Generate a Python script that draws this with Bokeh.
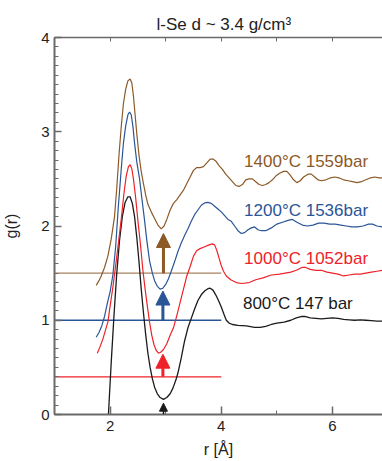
from bokeh.plotting import figure
from bokeh.models import (Range1d, LinearAxis, SingleIntervalTicker, Arrow,
                          NormalHead, Label)
from bokeh.embed import file_html
from bokeh.resources import INLINE

# ---------------- data ----------------
r_800 = [1.97, 2.02, 2.07, 2.12, 2.17, 2.22, 2.27, 2.32, 2.36, 2.40, 2.44, 2.48, 2.52,
         2.56, 2.60, 2.64, 2.68, 2.72, 2.76, 2.80, 2.85, 2.90, 2.96, 3.02, 3.08, 3.13,
         3.18, 3.22, 3.28, 3.34, 3.40, 3.46, 3.52, 3.58, 3.64, 3.70, 3.76, 3.80, 3.85,
         3.90, 3.95, 4.00, 4.05, 4.09, 4.14, 4.20, 4.30, 4.45, 4.60, 4.70, 4.80, 4.90,
         5.00, 5.13, 5.25, 5.35, 5.45, 5.50, 5.60, 5.70, 5.80, 5.90, 6.00, 6.10, 6.20,
         6.30, 6.40, 6.50, 6.60, 6.70, 6.80, 6.90]
g_800 = [0.00, 0.55, 1.05, 1.50, 1.85, 2.10, 2.25, 2.31, 2.31, 2.24, 2.10, 1.88, 1.62,
         1.33, 1.08, 0.85, 0.65, 0.50, 0.38, 0.29, 0.22, 0.18, 0.16, 0.18, 0.22, 0.28,
         0.36, 0.44, 0.60, 0.78, 0.92, 1.02, 1.12, 1.21, 1.27, 1.31, 1.335, 1.34, 1.32,
         1.27, 1.21, 1.14, 1.06, 1.00, 0.97, 0.955, 0.945, 0.94, 0.925, 0.925, 0.935, 0.955,
         0.97, 0.98, 1.00, 1.025, 1.04, 1.04, 1.025, 1.02, 1.015, 1.02, 1.025, 1.02, 1.01,
         1.005, 1.00, 1.005, 1.00, 0.995, 0.99, 0.99]

r_1000 = [1.77, 1.82, 1.87, 1.92, 1.96, 2.00, 2.05, 2.10, 2.15, 2.20, 2.25, 2.29, 2.33,
          2.36, 2.39, 2.42, 2.46, 2.50, 2.55, 2.59, 2.63, 2.67, 2.71, 2.75, 2.79, 2.83,
          2.87, 2.91, 2.96, 3.02, 3.08, 3.14, 3.20, 3.26, 3.32, 3.38, 3.44, 3.50, 3.56,
          3.62, 3.70, 3.78, 3.84, 3.88, 3.92, 3.96, 4.00, 4.04, 4.09, 4.17, 4.27, 4.37,
          4.50, 4.62, 4.75, 4.90, 5.05, 5.15, 5.25, 5.35, 5.45, 5.52, 5.60, 5.70, 5.80,
          5.90, 6.00, 6.10, 6.20, 6.30, 6.40, 6.50, 6.60, 6.70, 6.80, 6.90]
g_1000 = [0.65, 0.72, 0.80, 0.90, 0.98, 1.15, 1.35, 1.58, 1.82, 2.07, 2.35, 2.53, 2.63,
          2.65, 2.61, 2.50, 2.30, 2.06, 1.78, 1.53, 1.33, 1.15, 0.98, 0.84, 0.74, 0.68,
          0.65, 0.66, 0.69, 0.75, 0.84, 0.92, 1.05, 1.19, 1.33, 1.47, 1.57, 1.68, 1.74,
          1.76, 1.78, 1.80, 1.81, 1.80, 1.74, 1.66, 1.58, 1.52, 1.47, 1.43, 1.40, 1.39,
          1.40, 1.43, 1.45, 1.48, 1.49, 1.50, 1.51, 1.53, 1.56, 1.56, 1.54, 1.53, 1.53,
          1.51, 1.50, 1.49, 1.47, 1.48, 1.49, 1.49, 1.50, 1.51, 1.52, 1.53]

r_1200 = [1.75, 1.80, 1.85, 1.90, 1.95, 2.00, 2.05, 2.10, 2.15, 2.20, 2.24, 2.28, 2.32,
          2.35, 2.38, 2.41, 2.44, 2.48, 2.53, 2.57, 2.62, 2.66, 2.71, 2.76, 2.80, 2.85,
          2.90, 2.95, 3.00, 3.05, 3.10, 3.16, 3.22, 3.28, 3.34, 3.40, 3.46, 3.52, 3.58,
          3.64, 3.70, 3.76, 3.82, 3.88, 3.94, 4.00, 4.06, 4.12, 4.18, 4.24, 4.30, 4.36,
          4.42, 4.48, 4.54, 4.60, 4.66, 4.72, 4.80, 4.90, 5.00, 5.10, 5.20, 5.28, 5.36,
          5.46, 5.55, 5.65, 5.75, 5.85, 5.95, 6.05, 6.15, 6.25, 6.35, 6.45, 6.55, 6.65,
          6.72, 6.80, 6.90]
g_1200 = [0.82, 0.87, 0.94, 1.04, 1.18, 1.30, 1.48, 1.78, 2.22, 2.60, 2.88, 3.06, 3.18,
          3.21, 3.18, 3.06, 2.88, 2.68, 2.50, 2.30, 2.06, 1.85, 1.63, 1.50, 1.42, 1.36,
          1.33, 1.34, 1.38, 1.44, 1.52, 1.62, 1.73, 1.82, 1.90, 1.97, 2.05, 2.12, 2.17,
          2.22, 2.245, 2.25, 2.24, 2.21, 2.18, 2.15, 2.11, 2.07, 2.05, 2.00, 1.95, 1.92,
          1.93, 1.96, 1.98, 1.99, 1.96, 1.95, 1.95, 1.98, 2.02, 2.04, 2.06, 2.07, 2.04,
          2.01, 2.00, 2.01, 2.03, 2.03, 2.02, 2.02, 2.01, 2.00, 1.99, 1.99, 2.00, 2.02,
          2.02, 2.00, 1.99]

r_1400 = [1.75, 1.80, 1.84, 1.90, 1.96, 2.02, 2.08, 2.12, 2.16, 2.20, 2.24, 2.28, 2.32,
          2.36, 2.39, 2.42, 2.45, 2.48, 2.52, 2.56, 2.60, 2.64, 2.68, 2.74, 2.80, 2.86,
          2.92, 2.97, 3.02, 3.08, 3.14, 3.20, 3.26, 3.32, 3.38, 3.44, 3.50, 3.56, 3.62,
          3.68, 3.74, 3.80, 3.85, 3.90, 3.96, 4.02, 4.08, 4.14, 4.20, 4.26, 4.32, 4.38,
          4.44, 4.50, 4.56, 4.62, 4.68, 4.74, 4.80, 4.86, 4.92, 4.98, 5.05, 5.12, 5.18,
          5.24, 5.30, 5.36, 5.42, 5.48, 5.56, 5.62, 5.68, 5.74, 5.80, 5.88, 5.96, 6.04,
          6.12, 6.20, 6.28, 6.36, 6.44, 6.52, 6.60, 6.68, 6.76, 6.84, 6.90]
g_1400 = [1.37, 1.42, 1.47, 1.56, 1.68, 1.86, 2.10, 2.40, 2.75, 3.05, 3.30, 3.45, 3.54,
          3.56, 3.52, 3.38, 3.18, 2.98, 2.75, 2.58, 2.45, 2.33, 2.23, 2.15, 2.08, 2.01,
          1.97, 2.00, 2.07, 2.17, 2.24, 2.28, 2.33, 2.38, 2.45, 2.52, 2.59, 2.62, 2.62,
          2.63, 2.67, 2.71, 2.71, 2.69, 2.64, 2.60, 2.55, 2.51, 2.47, 2.43, 2.42, 2.44,
          2.49, 2.50, 2.50, 2.47, 2.44, 2.43, 2.44, 2.46, 2.49, 2.53, 2.56, 2.58, 2.58,
          2.54, 2.49, 2.46, 2.48, 2.52, 2.55, 2.55, 2.52, 2.49, 2.48, 2.49, 2.51, 2.52,
          2.51, 2.49, 2.48, 2.47, 2.46, 2.47, 2.49, 2.51, 2.52, 2.51, 2.51]

series_labels = ["800\u00b0C 147 bar", "1000\u00b0C 1052bar",
                 "1200\u00b0C 1536bar", "1400\u00b0C 1559bar"]

# reference (zero-level) lines for the shifted curves
base_level = [0.4, 1.0, 1.5]
base_r0 = [1.0, 1.0, 1.0]
base_r1 = [4.0, 4.0, 4.0]

# arrows marking the first minimum
arrow_r = [2.96, 2.95, 2.95, 2.96]
arrow_g0 = [0.0, 0.4, 1.0, 1.5]
arrow_g1 = [0.12, 0.64, 1.31, 1.92]

x_ticks_interval = 2
y_ticks_interval = 1

# ---------------- styling ----------------
FONT = "Liberation Sans"
BLACK = "#1a1a1a"
RED = "#ee2228"
BLUE = "#2a5597"
BROWN = "#8c5a28"
BROWN_LINE = "#a88260"
AXIS = "#6a6a6a"
TXT = "#222222"

p = figure(width=382, height=461, output_backend="svg", toolbar_location=None,
           x_range=Range1d(1.0, 6.90), y_range=Range1d(0.0, 4.0),
           min_border_left=53, min_border_right=0, min_border_top=37,
           min_border_bottom=47)
p.outline_line_color = None
p.xgrid.visible = False
p.ygrid.visible = False
p.background_fill_color = "white"
p.border_fill_color = "white"

p.title.text = "l-Se d ~ 3.4 g/cm\u00b3"
p.title.align = "left"
p.title.offset = 102
p.title.text_font = FONT
p.title.text_font_size = "17px"
p.title.text_font_style = "normal"
p.title.text_color = TXT
p.title.standoff = 7

# bottom axis
xa = p.xaxis[0]
xa.ticker = SingleIntervalTicker(interval=x_ticks_interval, num_minor_ticks=2)
# left axis
ya = p.yaxis[0]
ya.ticker = SingleIntervalTicker(interval=y_ticks_interval, num_minor_ticks=10)

for ax in (xa, ya):
    ax.axis_line_color = AXIS
    ax.axis_line_width = 2
    ax.major_tick_line_color = AXIS
    ax.minor_tick_line_color = AXIS
    ax.major_tick_line_width = 1.5
    ax.minor_tick_line_width = 1
    ax.major_tick_out = 0
    ax.minor_tick_out = 0
    ax.minor_tick_in = 4
    ax.major_label_text_font = FONT
    ax.major_label_text_font_size = "15px"
    ax.major_label_text_color = TXT
    ax.axis_label_text_font = FONT
    ax.axis_label_text_font_size = "16px"
    ax.axis_label_text_font_style = "normal"
    ax.axis_label_text_color = TXT
xa.major_tick_in = 8
ya.major_tick_in = 7
xa.major_label_standoff = 6
ya.major_label_standoff = 5
xa.axis_label = "r [\u00c5]"
xa.axis_label_standoff = 7
ya.axis_label = "g(r)"
ya.axis_label_standoff = 18

top = LinearAxis(ticker=SingleIntervalTicker(interval=1, num_minor_ticks=0))
top.axis_line_color = AXIS
top.axis_line_width = 1.5
top.major_tick_line_color = AXIS
top.major_tick_in = 4
top.major_tick_out = 0
top.minor_tick_line_color = None
top.major_label_text_font_size = "1px"
top.major_label_text_alpha = 0
top.major_label_standoff = 0
p.add_layout(top, "above")

# baselines
for lev, a, b, c in zip(base_level, base_r0, base_r1, [RED, BLUE, BROWN_LINE]):
    p.line([a, b], [lev, lev], line_color=c, line_width=1.3)

# curves
p.line(r_800, g_800, line_color=BLACK, line_width=1.3)
p.line(r_1000, g_1000, line_color=RED, line_width=1.2)
p.line(r_1200, g_1200, line_color=BLUE, line_width=1.2)
p.line(r_1400, g_1400, line_color=BROWN, line_width=1.2)

# arrows
arrow_colors = [BLACK, RED, BLUE, BROWN]
arrow_sizes = [8, 14, 14, 14]
arrow_widths = [1.5, 3, 3, 3]
for xr, y0, y1, c, s, w in zip(arrow_r, arrow_g0, arrow_g1, arrow_colors,
                                arrow_sizes, arrow_widths):
    p.add_layout(Arrow(end=NormalHead(size=s, fill_color=c, line_color=c, line_width=1),
                       x_start=xr, y_start=y0, x_end=xr, y_end=y1,
                       line_color=c, line_width=w))

# series labels
label_pos = [(4.39, 1.18), (4.41, 1.66), (4.41, 2.16), (4.41, 2.68)]
for (lx, ly), txt, c in zip(label_pos, series_labels, arrow_colors):
    p.add_layout(Label(x=lx, y=ly, text=txt, text_color=c, text_font=FONT,
                       text_font_size="17px", text_baseline="middle",
                       text_align="left"))

open("out.html", "w").write(file_html(p, INLINE))
